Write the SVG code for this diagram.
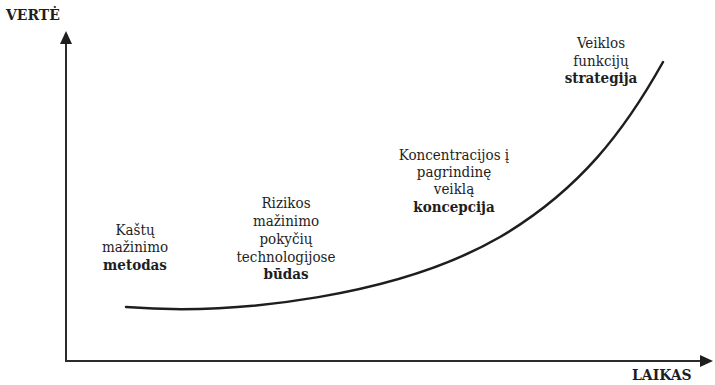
<svg xmlns="http://www.w3.org/2000/svg" width="715" height="385" viewBox="0 0 715 385">
  <style>
    .axis { stroke: #2b2b2b; stroke-width: 2; fill: none; }
    .curve { stroke: #1e1e1e; stroke-width: 2.5; fill: none; stroke-linecap: round; }
    .head { fill: #1e1e1e; }
    text { fill: #1e1e1e; font-family: "DejaVu Serif Condensed", "DejaVu Serif", serif; font-stretch: condensed; }
    .lbl { font-size: 15px; text-anchor: middle; }
    .b { font-weight: bold; }
    .ax { font-size: 15.5px; font-weight: bold; }
  </style>
  <rect width="715" height="385" fill="#ffffff"/>

  <!-- axes and growth curve -->
  <g id="connectors">
    <path class="axis" d="M66,42 V361 H702"/>
    <polygon class="head" points="66,31 60,44 72,44"/>
    <polygon class="head" points="713,361 700,355 700,367"/>
    <path id="growth-curve" class="curve" d="M126,307 C240,316 400,295 500,237 C580,190 625,130 663,62"/>
  </g>

  <g id="axis-y">
    <text class="ax" x="6" y="20">VERTĖ</text>
  </g>
  <g id="axis-x">
    <text class="ax" x="632" y="380">LAIKAS</text>
  </g>

  <g id="stage-1">
    <text class="lbl" x="135" y="235">Kaštų</text>
    <text class="lbl" x="135" y="252">mažinimo</text>
    <text class="lbl b" x="135" y="270">metodas</text>
  </g>

  <g id="stage-2">
    <text class="lbl" x="286" y="208">Rizikos</text>
    <text class="lbl" x="286" y="226">mažinimo</text>
    <text class="lbl" x="286" y="244">pokyčių</text>
    <text class="lbl" x="286" y="262">technologijose</text>
    <text class="lbl b" x="286" y="279">būdas</text>
  </g>

  <g id="stage-3">
    <text class="lbl" x="454" y="160">Koncentracijos į</text>
    <text class="lbl" x="454" y="177">pagrindinę</text>
    <text class="lbl" x="454" y="194">veiklą</text>
    <text class="lbl b" x="454" y="212">koncepcija</text>
  </g>

  <g id="stage-4">
    <text class="lbl" x="601" y="48">Veiklos</text>
    <text class="lbl" x="601" y="66">funkcijų</text>
    <text class="lbl b" x="601" y="83">strategija</text>
  </g>
</svg>
